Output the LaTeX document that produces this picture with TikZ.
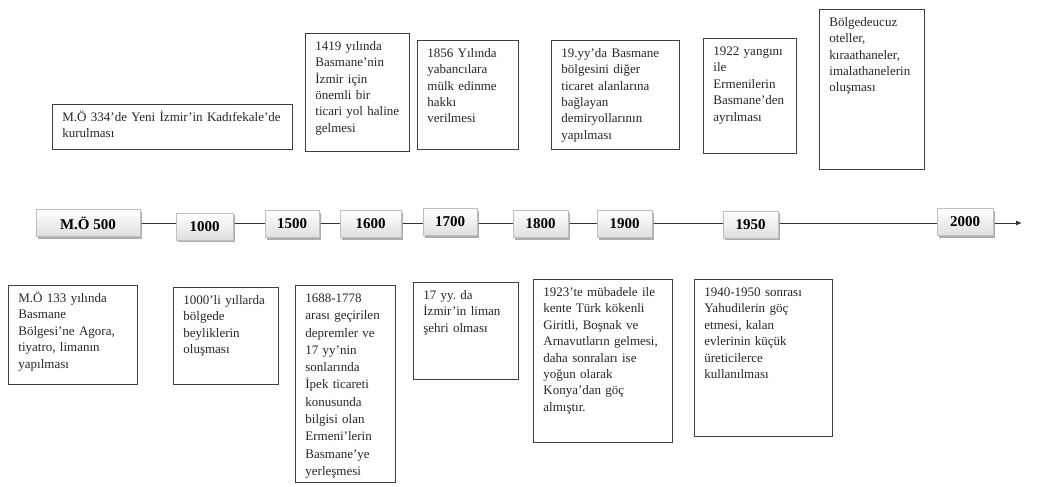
\documentclass[tikz,border=0pt]{standalone}
\usepackage{fontspec}
\setmainfont{Liberation Serif}
\usetikzlibrary{arrows.meta,shadows,backgrounds}

\tikzset{
  yil/.style={draw=gray!50, top color=white, bottom color=gray!25,
    minimum height=27pt, inner sep=0pt,
    font=\fontsize{15}{18}\selectfont\bfseries,
    drop shadow={shadow xshift=2pt, shadow yshift=-2pt, fill=gray!75, opacity=.85}},
  olay/.style={draw=black!75, line width=0.8pt, anchor=north west, align=left,
    inner xsep=10pt, inner ysep=4pt, text height=13pt, text=black!85,
    font=\fontsize{13}{16.4}\selectfont\frenchspacing},
  eksen/.style={line width=0.9pt, draw=black!80, -{Latex[length=6pt,width=5pt]}}
}

\begin{document}
\begin{tikzpicture}[x=1pt,y=-1pt]
        \useasboundingbox (0,0) rectangle (1044,487);
        % years on the line
        \node[yil, minimum width=104pt] (m500) at (88,223) {M.Ö 500};
        \node[yil, minimum width=57pt] (y1000) at (204.5,226.5) {1000};
        \node[yil, minimum width=54pt] (y1500) at (292,224) {1500};
        \node[yil, minimum width=61pt] (y1600) at (370.5,224) {1600};
        \node[yil, minimum width=54pt] (y1700) at (450,222) {1700};
        \node[yil, minimum width=55pt] (y1800) at (540.5,224) {1800};
        \node[yil, minimum width=55pt] (y1900) at (624.5,224) {1900};
        \node[yil, minimum width=55pt] (y1950) at (750.5,224.5) {1950};
        \node[yil, minimum width=56pt] (y2000) at (965,222) {2000};
        \coordinate (son) at (1022,223);
        \begin{scope}[on background layer]
          \draw[eksen] (m500.east) -- (son);
        \end{scope}
        % events above
        \node[olay, text width=220pt, text depth=24pt] (mo334) at (52,104)
          {M.Ö 334’de Yeni İzmir’in Kadıfekale’de\\kurulması};
        \node[olay, text width=84pt, text depth=97pt] (y1419) at (305,33)
          {1419 yılında\\Basmane’nin\\İzmir için\\önemli bir\\ticari yol haline\\gelmesi};
        \node[olay, text width=81pt, text depth=88pt] (y1856) at (417,40)
          {1856 Yılında\\yabancılara\\mülk edinme\\hakkı\\verilmesi};
        \node[olay, text width=108pt, text depth=88pt] (yy19) at (551,40)
          {19.yy’da Basmane\\bölgesini diğer\\ticaret alanlarına\\bağlayan\\demiryollarının\\yapılması};
        \node[olay, text width=73pt, text depth=94pt] (y1922) at (703,38)
          {1922 yangını\\ile\\Ermenilerin\\Basmane’den\\ayrılması};
        \node[olay, text width=85pt, text depth=139pt] (otel) at (819,9)
          {Bölgedeucuz\\oteller,\\kıraathaneler,\\imalathanelerin\\oluşması};
        % events below
        \node[olay, text width=109pt, text depth=78pt] (mo133) at (8,285)
          {M.Ö 133 yılında\\Basmane\\Bölgesi’ne Agora,\\tiyatro, limanın\\yapılması};
        \node[olay, text width=85pt, text depth=76pt] (beylik) at (173,287)
          {1000’li yıllarda\\bölgede\\beyliklerin\\oluşması};
        \node[olay, text width=80pt, text depth=176pt,
          font=\fontsize{13}{17.3}\selectfont] (y1688) at (295,285)
          {1688-1778\\arası geçirilen\\depremler ve\\17 yy’nin\\sonlarında\\İpek ticareti\\konusunda\\bilgisi olan\\Ermeni’lerin\\Basmane’ye\\yerleşmesi};
        \node[olay, text width=85pt, text depth=76pt] (yy17) at (413,282)
          {17 yy. da\\İzmir’in liman\\şehri olması};
        \node[olay, text width=119pt, text depth=142pt] (y1923) at (533,279)
          {1923’te mübadele ile\\kente Türk kökenli\\Giritli, Boşnak ve\\Arnavutların gelmesi,\\daha sonraları ise\\yoğun olarak\\Konya’dan göç\\almıştır.};
        \node[olay, text width=118pt, text depth=136pt] (y1940) at (694,279)
          {1940-1950 sonrası\\Yahudilerin göç\\etmesi, kalan\\evlerinin küçük\\üreticilerce\\kullanılması};
\end{tikzpicture}
\end{document}
